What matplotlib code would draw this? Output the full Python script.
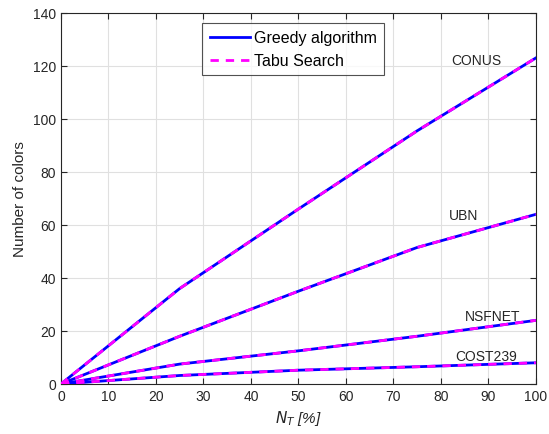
import matplotlib
matplotlib.use('Agg')
import matplotlib.pyplot as plt
import numpy as np

plt.rcParams['font.family'] = ['Liberation Sans', 'DejaVu Sans']

# Percentage of traffic N_T
nt = [0, 25, 50, 75, 100]

# Number of colors per network (greedy and tabu give the same curves)
greedy = {
    'CONUS': [0, 36, 66, 95.5, 123],
    'UBN': [0, 18, 35, 51.5, 64],
    'NSFNET': [0, 7.5, 12.5, 18, 24],
    'COST239': [0, 3.2, 5.2, 6.5, 8],
}
tabu = {
    'CONUS': [0, 36, 66, 95.5, 123],
    'UBN': [0, 18, 35, 51.5, 64],
    'NSFNET': [0, 7.5, 12.5, 18, 24],
    'COST239': [0, 3.2, 5.2, 6.5, 8],
}

# label positions (data coords)
label_pos = {
    'CONUS': (87.5, 119.5),
    'UBN': (84.8, 61),
    'NSFNET': (91, 23),
    'COST239': (89.5, 8),
}

fig = plt.figure(figsize=(5.49, 4.35), dpi=100)
ax = fig.add_axes([0.111, 0.115, 0.865, 0.853])

for i, name in enumerate(greedy):
    ax.plot(nt, greedy[name], color='#0000ff', lw=2, zorder=3,
            label='Greedy algorithm' if i == 0 else None)
    ax.plot(nt, tabu[name], color='#ff00ff', lw=2, ls=(0, (3, 2.5)), zorder=4,
            label='Tabu Search' if i == 0 else None)
    x, y = label_pos[name]
    ax.text(x, y, name, ha='center', va='bottom', fontsize=10, color='#262626')

ax.set_xlim(0, 100)
ax.set_ylim(0, 140)
ax.set_xticks(np.arange(0, 101, 10))
ax.set_yticks(np.arange(0, 141, 20))
ax.grid(True, color='#e0e0e0', lw=0.8)
ax.set_axisbelow(True)
ax.tick_params(direction='in', top=True, right=True, labelsize=10,
               colors='#262626', length=4)
for s in ax.spines.values():
    s.set_color('#262626')
    s.set_linewidth(0.8)

ax.set_xlabel(r'$N_T$ [%]', fontsize=11, color='#262626', style='italic')
ax.set_ylabel('Number of colors', fontsize=11, color='#262626')

leg = ax.legend(loc='upper left', bbox_to_anchor=(0.298, 0.973), fontsize=11.5,
                frameon=True, fancybox=False, edgecolor='#262626',
                handlelength=2.5, handletextpad=0.3, borderpad=0.45,
                labelspacing=0.5, borderaxespad=0)
leg.get_frame().set_linewidth(0.8)

fig.savefig('out.png', dpi=100)
